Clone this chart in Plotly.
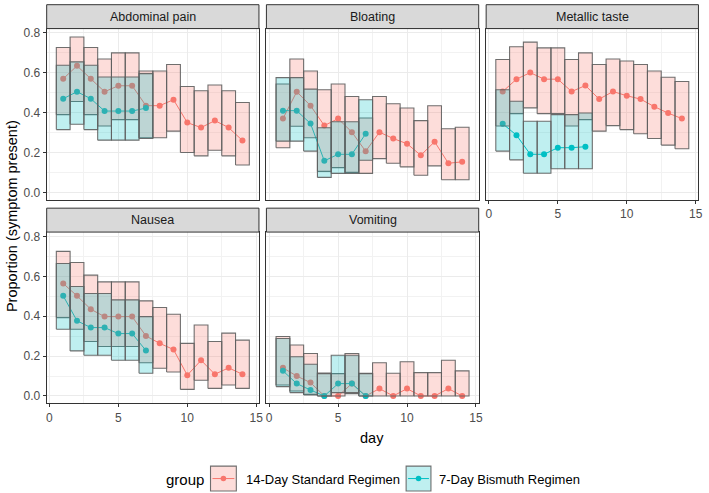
import plotly.graph_objects as go

W, H = 709, 493

# ---------------- data ----------------
days_std = list(range(1, 15))
days_bis = list(range(1, 8))
panels = ["Abdominal pain", "Bloating", "Metallic taste", "Nausea", "Vomiting"]
groups = ["14-Day Standard Regimen", "7-Day Bismuth Regimen"]
x_ticks = [0, 5, 10, 15]
y_ticks = [0.0, 0.2, 0.4, 0.6, 0.8]

abd_std_p = [0.57, 0.635, 0.57, 0.505, 0.535, 0.535, 0.435, 0.435, 0.465, 0.35, 0.325, 0.36, 0.325, 0.26]
abd_std_lo = [0.39, 0.456, 0.39, 0.333, 0.365, 0.365, 0.274, 0.274, 0.307, 0.20, 0.183, 0.211, 0.183, 0.137]
abd_std_hi = [0.727, 0.78, 0.727, 0.669, 0.70, 0.70, 0.609, 0.609, 0.642, 0.531, 0.51, 0.539, 0.51, 0.451]
abd_bis_p = [0.47, 0.505, 0.47, 0.408, 0.408, 0.408, 0.423]
abd_bis_lo = [0.315, 0.342, 0.315, 0.262, 0.262, 0.262, 0.27]
abd_bis_hi = [0.638, 0.655, 0.638, 0.579, 0.579, 0.579, 0.596]

blo_std_p = [0.37, 0.505, 0.435, 0.335, 0.37, 0.302, 0.206, 0.302, 0.27, 0.244, 0.186, 0.254, 0.146, 0.153]
blo_std_lo = [0.224, 0.332, 0.274, 0.105, 0.124, 0.10, 0.095, 0.169, 0.146, 0.128, 0.086, 0.133, 0.063, 0.063]
blo_std_hi = [0.544, 0.669, 0.609, 0.515, 0.544, 0.481, 0.373, 0.481, 0.445, 0.423, 0.36, 0.435, 0.319, 0.327]
blo_bis_p = [0.41, 0.41, 0.345, 0.158, 0.191, 0.191, 0.294]
blo_bis_lo = [0.257, 0.257, 0.207, 0.075, 0.095, 0.095, 0.161]
blo_bis_hi = [0.576, 0.576, 0.518, 0.324, 0.354, 0.354, 0.465]

met_std_p = [0.506, 0.568, 0.601, 0.568, 0.568, 0.506, 0.536, 0.468, 0.506, 0.485, 0.468, 0.43, 0.398, 0.37]
met_std_lo = [0.333, 0.395, 0.424, 0.395, 0.395, 0.333, 0.365, 0.307, 0.335, 0.315, 0.294, 0.27, 0.237, 0.219]
met_std_hi = [0.667, 0.731, 0.754, 0.725, 0.725, 0.667, 0.70, 0.642, 0.669, 0.659, 0.642, 0.609, 0.578, 0.556]
met_bis_p = [0.344, 0.287, 0.191, 0.191, 0.224, 0.224, 0.229]
met_bis_lo = [0.207, 0.163, 0.096, 0.096, 0.118, 0.118, 0.118]
met_bis_hi = [0.515, 0.457, 0.357, 0.357, 0.39, 0.39, 0.398]

nau_std_p = [0.564, 0.502, 0.435, 0.398, 0.398, 0.398, 0.301, 0.264, 0.233, 0.104, 0.179, 0.109, 0.141, 0.109]
nau_std_lo = [0.393, 0.335, 0.273, 0.248, 0.248, 0.248, 0.167, 0.139, 0.12, 0.033, 0.079, 0.038, 0.055, 0.038]
nau_std_hi = [0.725, 0.669, 0.606, 0.572, 0.572, 0.572, 0.477, 0.444, 0.41, 0.264, 0.356, 0.273, 0.315, 0.28]
nau_bis_p = [0.502, 0.377, 0.343, 0.343, 0.313, 0.313, 0.228]
nau_bis_lo = [0.335, 0.226, 0.204, 0.204, 0.179, 0.179, 0.114]
nau_bis_hi = [0.664, 0.549, 0.514, 0.514, 0.482, 0.482, 0.398]

vom_std_p = [0.141, 0.10, 0.067, 0.0, 0.0, 0.062, 0.0, 0.037, 0.0, 0.037, 0.0, 0.0, 0.037, 0.0]
vom_std_lo = [0.055, 0.025, 0.008, 0.0, 0.0, 0.012, 0.0, 0.0, 0.0, 0.0, 0.0, 0.0, 0.0, 0.0]
vom_std_hi = [0.298, 0.256, 0.213, 0.115, 0.112, 0.213, 0.114, 0.167, 0.114, 0.172, 0.117, 0.117, 0.179, 0.126]
vom_bis_p = [0.126, 0.062, 0.03, 0.0, 0.062, 0.062, 0.0]
vom_bis_lo = [0.047, 0.017, 0.005, 0.0, 0.017, 0.017, 0.0]
vom_bis_hi = [0.288, 0.197, 0.159, 0.112, 0.204, 0.204, 0.112]

std_data = [
    (abd_std_p, abd_std_lo, abd_std_hi),
    (blo_std_p, blo_std_lo, blo_std_hi),
    (met_std_p, met_std_lo, met_std_hi),
    (nau_std_p, nau_std_lo, nau_std_hi),
    (vom_std_p, vom_std_lo, vom_std_hi),
]
bis_data = [
    (abd_bis_p, abd_bis_lo, abd_bis_hi),
    (blo_bis_p, blo_bis_lo, blo_bis_hi),
    (met_bis_p, met_bis_lo, met_bis_hi),
    (nau_bis_p, nau_bis_lo, nau_bis_hi),
    (vom_bis_p, vom_bis_lo, vom_bis_hi),
]

# ---------------- style ----------------
STD_COLOR, BIS_COLOR = "#F8766D", "#00BFC4"
STD_FILL, BIS_FILL = "rgba(248,118,109,0.25)", "rgba(0,191,196,0.25)"
BORDER = "rgba(95,95,95,0.9)"
FONT = "Liberation Sans, Arial, sans-serif"

col_px = [(46.0, 259.8), (267.3, 481.1), (488.6, 702.4)]
row_px = [(26.7, 198.5), (231.0, 403.0)]
STRIP_H = 24.0
pos = [(0, 0), (0, 1), (0, 2), (1, 0), (1, 1)]
XR = [-0.2, 15.2]
YR = [-0.037, 0.822]


def fx(px):
    return px / W


def fy(py):
    return 1 - py / H


def rect_path(days, lo, hi):
    xs, ys = [], []
    for d, a, b in zip(days, lo, hi):
        xs += [d - 0.5, d + 0.5, d + 0.5, d - 0.5, d - 0.5, None]
        ys += [a, a, b, b, a, None]
    return xs, ys


fig = go.Figure()
shapes, annotations = [], []
layout = {}

for i, name in enumerate(panels):
    r, c = pos[i]
    k = "" if i == 0 else str(i + 1)
    xa, ya = "x" + k, "y" + k
    x0, x1 = col_px[c]
    y0, y1 = row_px[r]

    # lines and points
    for (days, (p, lo, hi), col) in [(days_std, std_data[i], STD_COLOR), (days_bis, bis_data[i], BIS_COLOR)]:
        fig.add_trace(go.Scatter(x=days, y=p, mode="lines+markers", xaxis=xa, yaxis=ya,
                                 line=dict(color=col, width=1), marker=dict(color=col, size=6),
                                 showlegend=False, hoverinfo="skip"))
    # rectangles (drawn on top, semi-transparent)
    for (days, (p, lo, hi), fill) in [(days_std, std_data[i], STD_FILL), (days_bis, bis_data[i], BIS_FILL)]:
        rx, ry = rect_path(days, lo, hi)
        fig.add_trace(go.Scatter(x=rx, y=ry, mode="lines", fill="toself", fillcolor=fill,
                                 xaxis=xa, yaxis=ya, line=dict(color=BORDER, width=1.1),
                                 showlegend=False, hoverinfo="skip"))

    show_x = (r == 1) or (c == 2)
    show_y = (c == 0)
    layout["xaxis" + k] = dict(
        domain=[fx(x0), fx(x1)], anchor=ya, range=XR, tickvals=x_ticks,
        showticklabels=show_x, ticks="outside" if show_x else "", ticklen=3, tickcolor="#333333",
        showgrid=True, gridcolor="#EBEBEB", gridwidth=1,
        minor=dict(tickvals=[2.5, 7.5, 12.5], showgrid=True, gridcolor="#F2F2F2", gridwidth=0.6, ticks=""),
        showline=True, mirror=True, linecolor="#333333", linewidth=1, zeroline=False,
        tickfont=dict(size=12, color="#4D4D4D", family=FONT), fixedrange=True,
    )
    layout["yaxis" + k] = dict(
        domain=[fy(y1), fy(y0)], anchor=xa, range=YR, tickvals=y_ticks,
        tickformat=".1f", showticklabels=show_y, ticks="outside" if show_y else "", ticklen=3,
        tickcolor="#333333",
        showgrid=True, gridcolor="#EBEBEB", gridwidth=1,
        minor=dict(tickvals=[0.1, 0.3, 0.5, 0.7], showgrid=True, gridcolor="#F2F2F2", gridwidth=0.6, ticks=""),
        showline=True, mirror=True, linecolor="#333333", linewidth=1, zeroline=False,
        tickfont=dict(size=12, color="#4D4D4D", family=FONT), fixedrange=True,
    )
    # strip
    shapes.append(dict(type="rect", xref="paper", yref="paper",
                       x0=fx(x0), x1=fx(x1), y0=fy(y0), y1=fy(y0 - STRIP_H),
                       fillcolor="#D9D9D9", line=dict(color="#333333", width=1), layer="above"))
    annotations.append(dict(text=name, xref="paper", yref="paper", x=fx((x0 + x1) / 2),
                            y=fy(y0 - STRIP_H / 2), showarrow=False, xanchor="center", yanchor="middle",
                            font=dict(size=12.5, color="#1A1A1A", family=FONT)))

# axis titles
annotations.append(dict(text="day", xref="paper", yref="paper", x=fx(374), y=fy(438), showarrow=False,
                        xanchor="center", yanchor="middle", font=dict(size=14.5, color="#000000", family=FONT)))
annotations.append(dict(text="Proportion (symptom present)", xref="paper", yref="paper", x=fx(11), y=fy(215),
                        showarrow=False, textangle=-90, xanchor="center", yanchor="middle",
                        font=dict(size=14.5, color="#000000", family=FONT)))

# legend (drawn manually to mimic the ggplot key)
annotations.append(dict(text="group", xref="paper", yref="paper", x=fx(164), y=fy(479), showarrow=False,
                        xanchor="left", yanchor="middle", font=dict(size=15, color="#000000", family=FONT)))
keys = [(211, 237, STD_FILL, STD_COLOR, groups[0], 245), (408, 433, BIS_FILL, BIS_COLOR, groups[1], 439)]
for kx0, kx1, kfill, kcol, ktext, tx in keys:
    shapes.append(dict(type="rect", xref="paper", yref="paper", x0=fx(kx0), x1=fx(kx1), y0=fy(491), y1=fy(466),
                       fillcolor=kfill, line=dict(color=BORDER, width=1.1)))
    shapes.append(dict(type="line", xref="paper", yref="paper", x0=fx(kx0 + 2), x1=fx(kx1 - 2), y0=fy(478.5),
                       y1=fy(478.5), line=dict(color=kcol, width=1)))
    cx = (kx0 + kx1) / 2
    shapes.append(dict(type="circle", xref="paper", yref="paper", x0=fx(cx - 2.8), x1=fx(cx + 2.8),
                       y0=fy(481.3), y1=fy(475.7), fillcolor=kcol, line=dict(color=kcol, width=0)))
    annotations.append(dict(text=ktext, xref="paper", yref="paper", x=fx(tx), y=fy(479), showarrow=False,
                            xanchor="left", yanchor="middle", font=dict(size=13, color="#000000", family=FONT)))

fig.update_layout(
    width=W, height=H, margin=dict(l=0, r=0, t=0, b=0),
    paper_bgcolor="white", plot_bgcolor="white",
    showlegend=False, shapes=shapes, annotations=annotations,
    font=dict(family=FONT), **layout,
)

fig.write_html("out.html")
